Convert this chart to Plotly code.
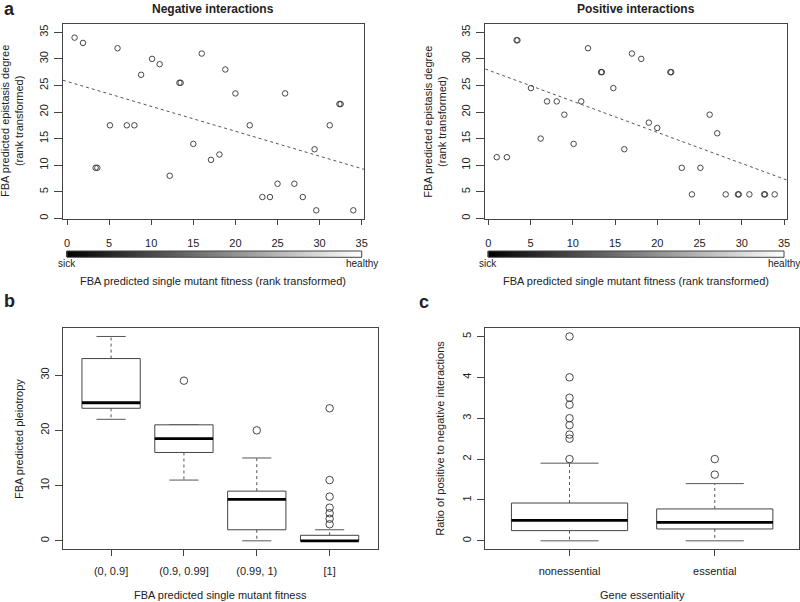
import plotly.graph_objects as go
import numpy as np

# ---------------- data ----------------
neg_x = [0.9, 1.9, 6.0, 10.1, 11.0, 8.8, 16.0, 18.8, 13.35, 13.5, 20.0, 25.9, 32.35, 32.5,
         5.1, 7.1, 8.0, 21.7, 31.2, 3.4, 3.6, 15.0, 17.1, 18.1, 12.2, 29.4, 23.2, 24.1,
         25.0, 27.0, 28.0, 29.6, 34.0]
neg_y = [34, 33, 32, 30, 29, 27, 31, 28, 25.5, 25.5, 23.5, 23.5, 21.5, 21.5,
         17.5, 17.5, 17.5, 17.5, 17.5, 9.5, 9.5, 14, 11, 12, 8, 13, 4, 4,
         6.5, 6.5, 4, 1.5, 1.5]
neg_fit = {"intercept": 25.75, "slope": -0.4686}

pos_x = [1.0, 2.2, 3.35, 3.45, 5.05, 6.2, 6.95, 8.1, 9.0, 10.1, 11.0, 11.8, 13.35, 13.45,
         14.8, 16.1, 17.0, 18.1, 19.0, 20.0, 21.55, 21.65, 22.9, 24.1, 25.1, 26.2, 27.1,
         28.1, 29.55, 29.65, 30.9, 32.65, 32.75, 33.9]
pos_y = [11.5, 11.5, 33.5, 33.5, 24.5, 15, 22, 22, 19.5, 14, 22, 32, 27.5, 27.5,
         24.5, 13, 31, 30, 18, 17, 27.5, 27.5, 9.5, 4.5, 9.5, 19.5, 16,
         4.5, 4.5, 4.5, 4.5, 4.5, 4.5, 4.5]
pos_fit = {"intercept": 27.88, "slope": -0.5853}

scatter_ticks = [0, 5, 10, 15, 20, 25, 30, 35]

# panel b: pleiotropy boxplot stats
b_labels = ["(0, 0.9]", "(0.9, 0.99]", "(0.99, 1)", "[1]"]
b_lower = [22, 11, 0, 0]
b_q1 = [24, 16, 2, 0]
b_median = [25, 18.5, 7.5, 0]
b_q3 = [33, 21, 9, 1]
b_upper = [37, 21, 15, 2]
b_outliers = [[], [29], [20], [24, 11, 8, 6, 5, 4, 3]]

# panel c: ratio boxplot stats
c_labels = ["nonessential", "essential"]
c_lower = [0, 0]
c_q1 = [0.25, 0.29]
c_median = [0.50, 0.45]
c_q3 = [0.925, 0.78]
c_upper = [1.9, 1.4]
c_outliers = [[5.0, 4.0, 3.5, 3.33, 3.0, 2.83, 2.6, 2.5, 2.0], [2.0, 1.62]]

# ---------------- style ----------------
FONT = "Liberation Sans, Arial, sans-serif"
TXT = "#222222"
LINE = "#444444"
W, H = 800, 602


def px(x):
    return x / W


def py(y):
    return 1 - y / H


fig = go.Figure()

# scatter panels
for xs, ys, fit, xa, ya, xr in [(neg_x, neg_y, neg_fit, "x", "y", [-0.475, 35.27]),
                                (pos_x, pos_y, pos_fit, "x2", "y2", [-0.355, 35.32])]:
    fig.add_trace(go.Scatter(x=xs, y=ys, mode="markers", xaxis=xa, yaxis=ya,
                             marker=dict(symbol="circle-open", size=5.5, color="#333333",
                                         line=dict(width=0.9)),
                             showlegend=False, hoverinfo="skip"))
    fx = [xr[0], xr[1]]
    fy = [fit["intercept"] + fit["slope"] * v for v in fx]
    fig.add_trace(go.Scatter(x=fx, y=fy, mode="lines", xaxis=xa, yaxis=ya,
                             line=dict(color="#555555", width=1, dash="3px,3px"),
                             showlegend=False, hoverinfo="skip"))

# gradient bars (colour key black -> white)
grad_n = 200
grad_x = np.linspace(0, 35, grad_n)
for xa, ya in [("x", "y5"), ("x2", "y6")]:
    fig.add_trace(go.Heatmap(x=grad_x, y=[0], z=[list(grad_x)], xaxis=xa, yaxis=ya,
                             colorscale=[[0, "black"], [1, "white"]], showscale=False,
                             hoverinfo="skip"))


def add_boxes(lower, q1, med, q3, upper, outl, xa, ya, hw=0.4, sw=0.2):
    bx, by, mx, my, wx, wy, sx, sy, ox, oy = [], [], [], [], [], [], [], [], [], []
    for i in range(len(q1)):
        p = i + 1
        bx += [p - hw, p + hw, p + hw, p - hw, p - hw, None]
        by += [q1[i], q1[i], q3[i], q3[i], q1[i], None]
        mx += [p - hw, p + hw, None]
        my += [med[i], med[i], None]
        if upper[i] > q3[i]:
            wx += [p, p, None]
            wy += [q3[i], upper[i], None]
        if lower[i] < q1[i]:
            wx += [p, p, None]
            wy += [q1[i], lower[i], None]
        sx += [p - sw, p + sw, None, p - sw, p + sw, None]
        sy += [upper[i], upper[i], None, lower[i], lower[i], None]
        for v in outl[i]:
            ox.append(p)
            oy.append(v)
    common = dict(xaxis=xa, yaxis=ya, showlegend=False, hoverinfo="skip")
    fig.add_trace(go.Scatter(x=wx, y=wy, mode="lines", line=dict(color="#555555", width=1, dash="3px,3px"), **common))
    fig.add_trace(go.Scatter(x=sx, y=sy, mode="lines", line=dict(color="#555555", width=1), **common))
    fig.add_trace(go.Scatter(x=bx, y=by, mode="lines", line=dict(color=LINE, width=1), fill="toself",
                             fillcolor="white", **common))
    fig.add_trace(go.Scatter(x=mx, y=my, mode="lines", line=dict(color="black", width=2.8), **common))
    fig.add_trace(go.Scatter(x=ox, y=oy, mode="markers",
                             marker=dict(symbol="circle-open", size=7.5, color="#333333", line=dict(width=0.9)),
                             **common))


add_boxes(b_lower, b_q1, b_median, b_q3, b_upper, b_outliers, "x3", "y3")
add_boxes(c_lower, c_q1, c_median, c_q3, c_upper, c_outliers, "x4", "y4")

axis_common = dict(showline=True, mirror=True, linecolor=LINE, linewidth=1, ticks="outside",
                   tickcolor=LINE, tickwidth=1, showgrid=False, zeroline=False, automargin=False,
                   tickfont=dict(family=FONT, size=11, color=TXT))

top_dom = [py(219), py(24)]
bot_dom = [py(549), py(328.3)]
grad_dom = [py(257.3), py(251)]

fig.update_layout(
    width=W, height=H, margin=dict(l=0, r=0, t=0, b=0),
    paper_bgcolor="white", plot_bgcolor="white",
    font=dict(family=FONT, size=11, color=TXT),
    hovermode=False,
    xaxis=dict(domain=[px(63), px(364)], range=[-0.475, 35.27], tickvals=scatter_ticks,
               anchor="y", ticklen=5, ticklabelstandoff=9, **axis_common),
    yaxis=dict(domain=top_dom, range=[-0.13, 36.56], tickvals=scatter_ticks, tickangle=-90,
               anchor="x", ticklen=8, ticklabelstandoff=2, **axis_common),
    xaxis2=dict(domain=[px(485.3), px(786.7)], range=[-0.355, 35.32], tickvals=scatter_ticks,
                anchor="y2", ticklen=5, ticklabelstandoff=9, **axis_common),
    yaxis2=dict(domain=top_dom, range=[-0.13, 36.56], tickvals=scatter_ticks, tickangle=-90,
                anchor="x2", ticklen=8, ticklabelstandoff=2, **axis_common),
    xaxis3=dict(domain=[px(63), px(377.7)], range=[0.34, 4.66], tickvals=[1, 2, 3, 4],
                ticktext=b_labels, anchor="y3", ticklen=6, ticklabelstandoff=6, **axis_common),
    yaxis3=dict(domain=bot_dom, range=[-1.48, 38.48], tickvals=[0, 10, 20, 30], tickangle=-90,
                anchor="x3", ticklen=7, ticklabelstandoff=2, **axis_common),
    xaxis4=dict(domain=[px(485.3), px(799)], range=[0.42, 2.58], tickvals=[1, 2],
                ticktext=c_labels, anchor="y4", ticklen=6, ticklabelstandoff=6, **axis_common),
    yaxis4=dict(domain=bot_dom, range=[-0.2, 5.2], tickvals=[0, 1, 2, 3, 4, 5], tickangle=-90,
                anchor="x4", ticklen=7, ticklabelstandoff=2, **axis_common),
    yaxis5=dict(domain=grad_dom, range=[-0.5, 0.5], visible=False, anchor="x"),
    yaxis6=dict(domain=grad_dom, range=[-0.5, 0.5], visible=False, anchor="x2"),
)

# gradient borders
for xr, yr in [("x", "y5"), ("x2", "y6")]:
    fig.add_shape(type="rect", xref=xr, yref=yr + " domain", x0=0, x1=35, y0=0, y1=1,
                  line=dict(color=LINE, width=1))

ann = []


def A(text, x, y, size=11, bold=False, angle=0, xref="paper", xanchor="center", yanchor="middle"):
    t = "<b>%s</b>" % text if bold else text
    ann.append(dict(text=t, x=x if xref != "paper" else px(x), y=py(y), xref=xref, yref="paper",
                    showarrow=False, textangle=angle, xanchor=xanchor, yanchor=yanchor,
                    font=dict(family=FONT, size=size, color=TXT)))


A("Negative interactions", 213.5, 0, size=12, bold=True, yanchor="top")
A("Positive interactions", 636, 0, size=12, bold=True, yanchor="top")
A("FBA predicted epistasis degree<br>(rank transformed)", 12.5, 121.5, angle=-90)
A("FBA predicted epistasis degree<br>(rank transformed)", 435.3, 121.5, angle=-90)
A("FBA predicted single mutant fitness (rank transformed)", 213.5, 281)
A("FBA predicted single mutant fitness (rank transformed)", 636, 281)
A("sick", 0, 263.5, size=10, xref="x")
A("healthy", 35, 263.5, size=10, xref="x")
A("sick", 0, 263.5, size=10, xref="x2")
A("healthy", 35, 263.5, size=10, xref="x2")
A("FBA predicted pleiotropy", 18.3, 438.7, angle=-90)
A("FBA predicted single mutant fitness", 220, 595)
A("Ratio of positive to negative interactions", 440, 438.7, angle=-90)
A("Gene essentiality", 642, 595)
A("a", 9.5, -3, size=18, bold=True, yanchor="top")
A("b", 9.5, 301, size=18, bold=True)
A("c", 424, 302, size=18, bold=True)
fig.update_layout(annotations=ann)

fig.write_html("out.html", config={"displayModeBar": False, "staticPlot": True},
               post_script="document.body.style.margin='0px';document.body.style.overflow='hidden';")
